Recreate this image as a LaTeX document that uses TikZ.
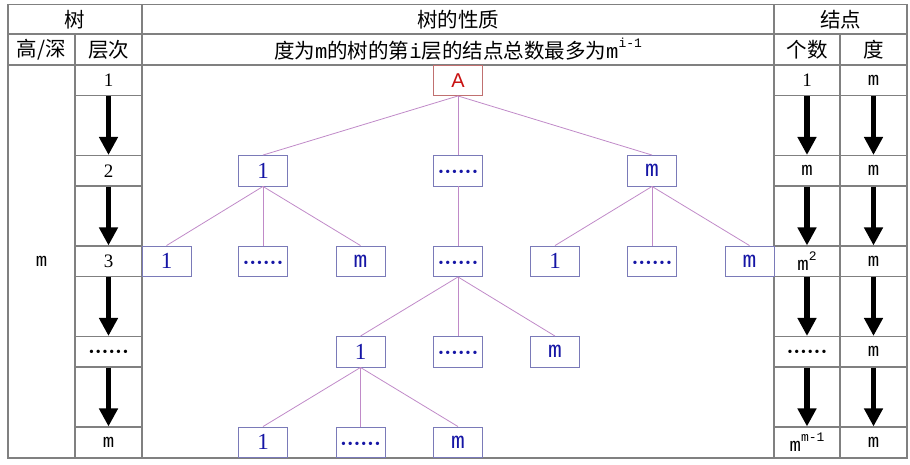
\documentclass[tikz,border=0pt]{standalone}
\usepackage{fontspec}
\setmainfont{Liberation Serif}
\newfontfamily\cjk{Noto Sans CJK SC}
\newfontfamily\monof{Liberation Mono}
\newfontfamily\sansf{Liberation Sans}
\usetikzlibrary{arrows.meta}
\definecolor{tline}{HTML}{808080}
\definecolor{nbord}{HTML}{7A7AB8}
\definecolor{edgec}{HTML}{C08AC8}
\definecolor{ntext}{HTML}{1515A5}
\definecolor{abord}{HTML}{C07070}
\definecolor{atext}{HTML}{C81010}
\newcommand\mmx{{\monof m}}
\newcommand\dotsx{\smash{\raisebox{-0.27em}{\fontsize{14}{14}\selectfont\textbullet\kern1.9pt\textbullet\kern1.9pt\textbullet\kern1.9pt\textbullet\kern1.9pt\textbullet\kern1.9pt\textbullet}}}
\newcommand\supx[1]{\raisebox{0.55em}{\fontsize{13}{13}\selectfont\monof #1}}
\begin{document}
\begin{tikzpicture}[x=1pt,y=-1pt,
  tl/.style={draw=tline, line width=1.1pt},
  hd/.style={inner sep=0pt, font=\fontsize{20.5}{20.5}\selectfont\cjk},
  cell/.style={draw=tline, line width=1.1pt, minimum width=67pt, minimum height=30.5pt, inner sep=0pt, font=\fontsize{19}{19}\selectfont},
  tnode/.style={draw=nbord, line width=0.9pt, fill=white, minimum width=49pt, minimum height=30.5pt, inner sep=0pt, text=ntext, font=\fontsize{23}{23}\selectfont},
  anode/.style={tnode, draw=abord, text=atext, font=\fontsize{20}{20}\selectfont\sansf},
  edge/.style={draw=edgec, line width=0.8pt},
  bigarrow/.style={draw=black, line width=5.5pt, -{Triangle[width=18pt,length=18pt]}}]
\useasboundingbox (0,0) rectangle (910,464);
% table frame
\draw[tl] (8,4.5) rectangle (907,458);
\draw[tl] (8,34) -- (907,34);
\draw[tl] (8,65) -- (907,65);
\draw[tl] (75,34) -- (75,458);
\draw[tl] (142,4.5) -- (142,458);
\draw[tl] (774,4.5) -- (774,458);
\draw[tl] (840,34) -- (840,458);
% headers
\node[hd] (hshu) at (75,19.5) {树};
\node[hd] (hxz) at (458,19.5) {树的性质};
\node[hd] (hjd) at (840.5,19.5) {结点};
\node[hd] (hgs) at (41.5,49.5) {高/深};
\node[hd] (hcc) at (108.5,49.5) {层次};
\node[hd] (hlong) at (458,49.5) {度为\mmx 的树的第{\monof i}层的结点总数最多为\mmx\supx{i-1}};
\node[hd] (hgeshu) at (807,49.5) {个数};
\node[hd] (hdu) at (873.5,49.5) {度};
% height column
\node[inner sep=0pt, font=\fontsize{19}{19}\selectfont] (hm) at (41.5,261.25) {\mmx};
% level column
\node[cell] (l1) at (108.5,80.25) {1};
\node[cell] (l2) at (108.5,170.75) {2};
\node[cell] (l3) at (108.5,261.25) {3};
\node[cell] (l4) at (108.5,351.75) {\dotsx};
\node[cell] (l5) at (108.5,442.25) {\mmx};
% count column
\node[cell, minimum width=66pt] (c1) at (807,80.25) {1};
\node[cell, minimum width=66pt] (c2) at (807,170.75) {\mmx};
\node[cell, minimum width=66pt] (c3) at (807,261.25) {\mmx\supx{2}};
\node[cell, minimum width=66pt] (c4) at (807,351.75) {\dotsx};
\node[cell, minimum width=66pt] (c5) at (807,442.25) {\mmx\supx{m-1}};
% degree column
\node[cell] (d1) at (873.5,80.25) {\mmx};
\node[cell] (d2) at (873.5,170.75) {\mmx};
\node[cell] (d3) at (873.5,261.25) {\mmx};
\node[cell] (d4) at (873.5,351.75) {\mmx};
\node[cell] (d5) at (873.5,442.25) {\mmx};
\foreach \a/\b in {1/2,2/3,3/4,4/5}{
  \draw[bigarrow] (l\a.south) -- (l\b.north);
  \draw[bigarrow] (c\a.south) -- (c\b.north);
  \draw[bigarrow] (d\a.south) -- (d\b.north);
}
% tree
\node[anode] (A) at (458,80.25) {A};
\node[tnode] (b1) at (263,170.75) {1};
\node[tnode] (b2) at (458,170.75) {\dotsx};
\node[tnode] (b3) at (652,170.75) {\mmx};
\node[tnode] (t1) at (166.5,261.25) {1};
\node[tnode] (t2) at (263,261.25) {\dotsx};
\node[tnode] (t3) at (360.5,261.25) {\mmx};
\node[tnode] (t4) at (458,261.25) {\dotsx};
\node[tnode] (t5) at (555,261.25) {1};
\node[tnode] (t6) at (652,261.25) {\dotsx};
\node[tnode] (t7) at (749.5,261.25) {\mmx};
\node[tnode] (f1) at (360.5,351.75) {1};
\node[tnode] (f2) at (458,351.75) {\dotsx};
\node[tnode] (f3) at (555,351.75) {\mmx};
\node[tnode] (g1) at (263,442.25) {1};
\node[tnode] (g2) at (360.5,442.25) {\dotsx};
\node[tnode] (g3) at (458,442.25) {\mmx};
\foreach \p/\c in {A/b1,A/b2,A/b3,b1/t1,b1/t2,b1/t3,b2/t4,b3/t5,b3/t6,b3/t7,t4/f1,t4/f2,t4/f3,f1/g1,f1/g2,f1/g3}{
  \draw[edge] (\p.south) -- (\c.north);
}
\end{tikzpicture}
\end{document}
